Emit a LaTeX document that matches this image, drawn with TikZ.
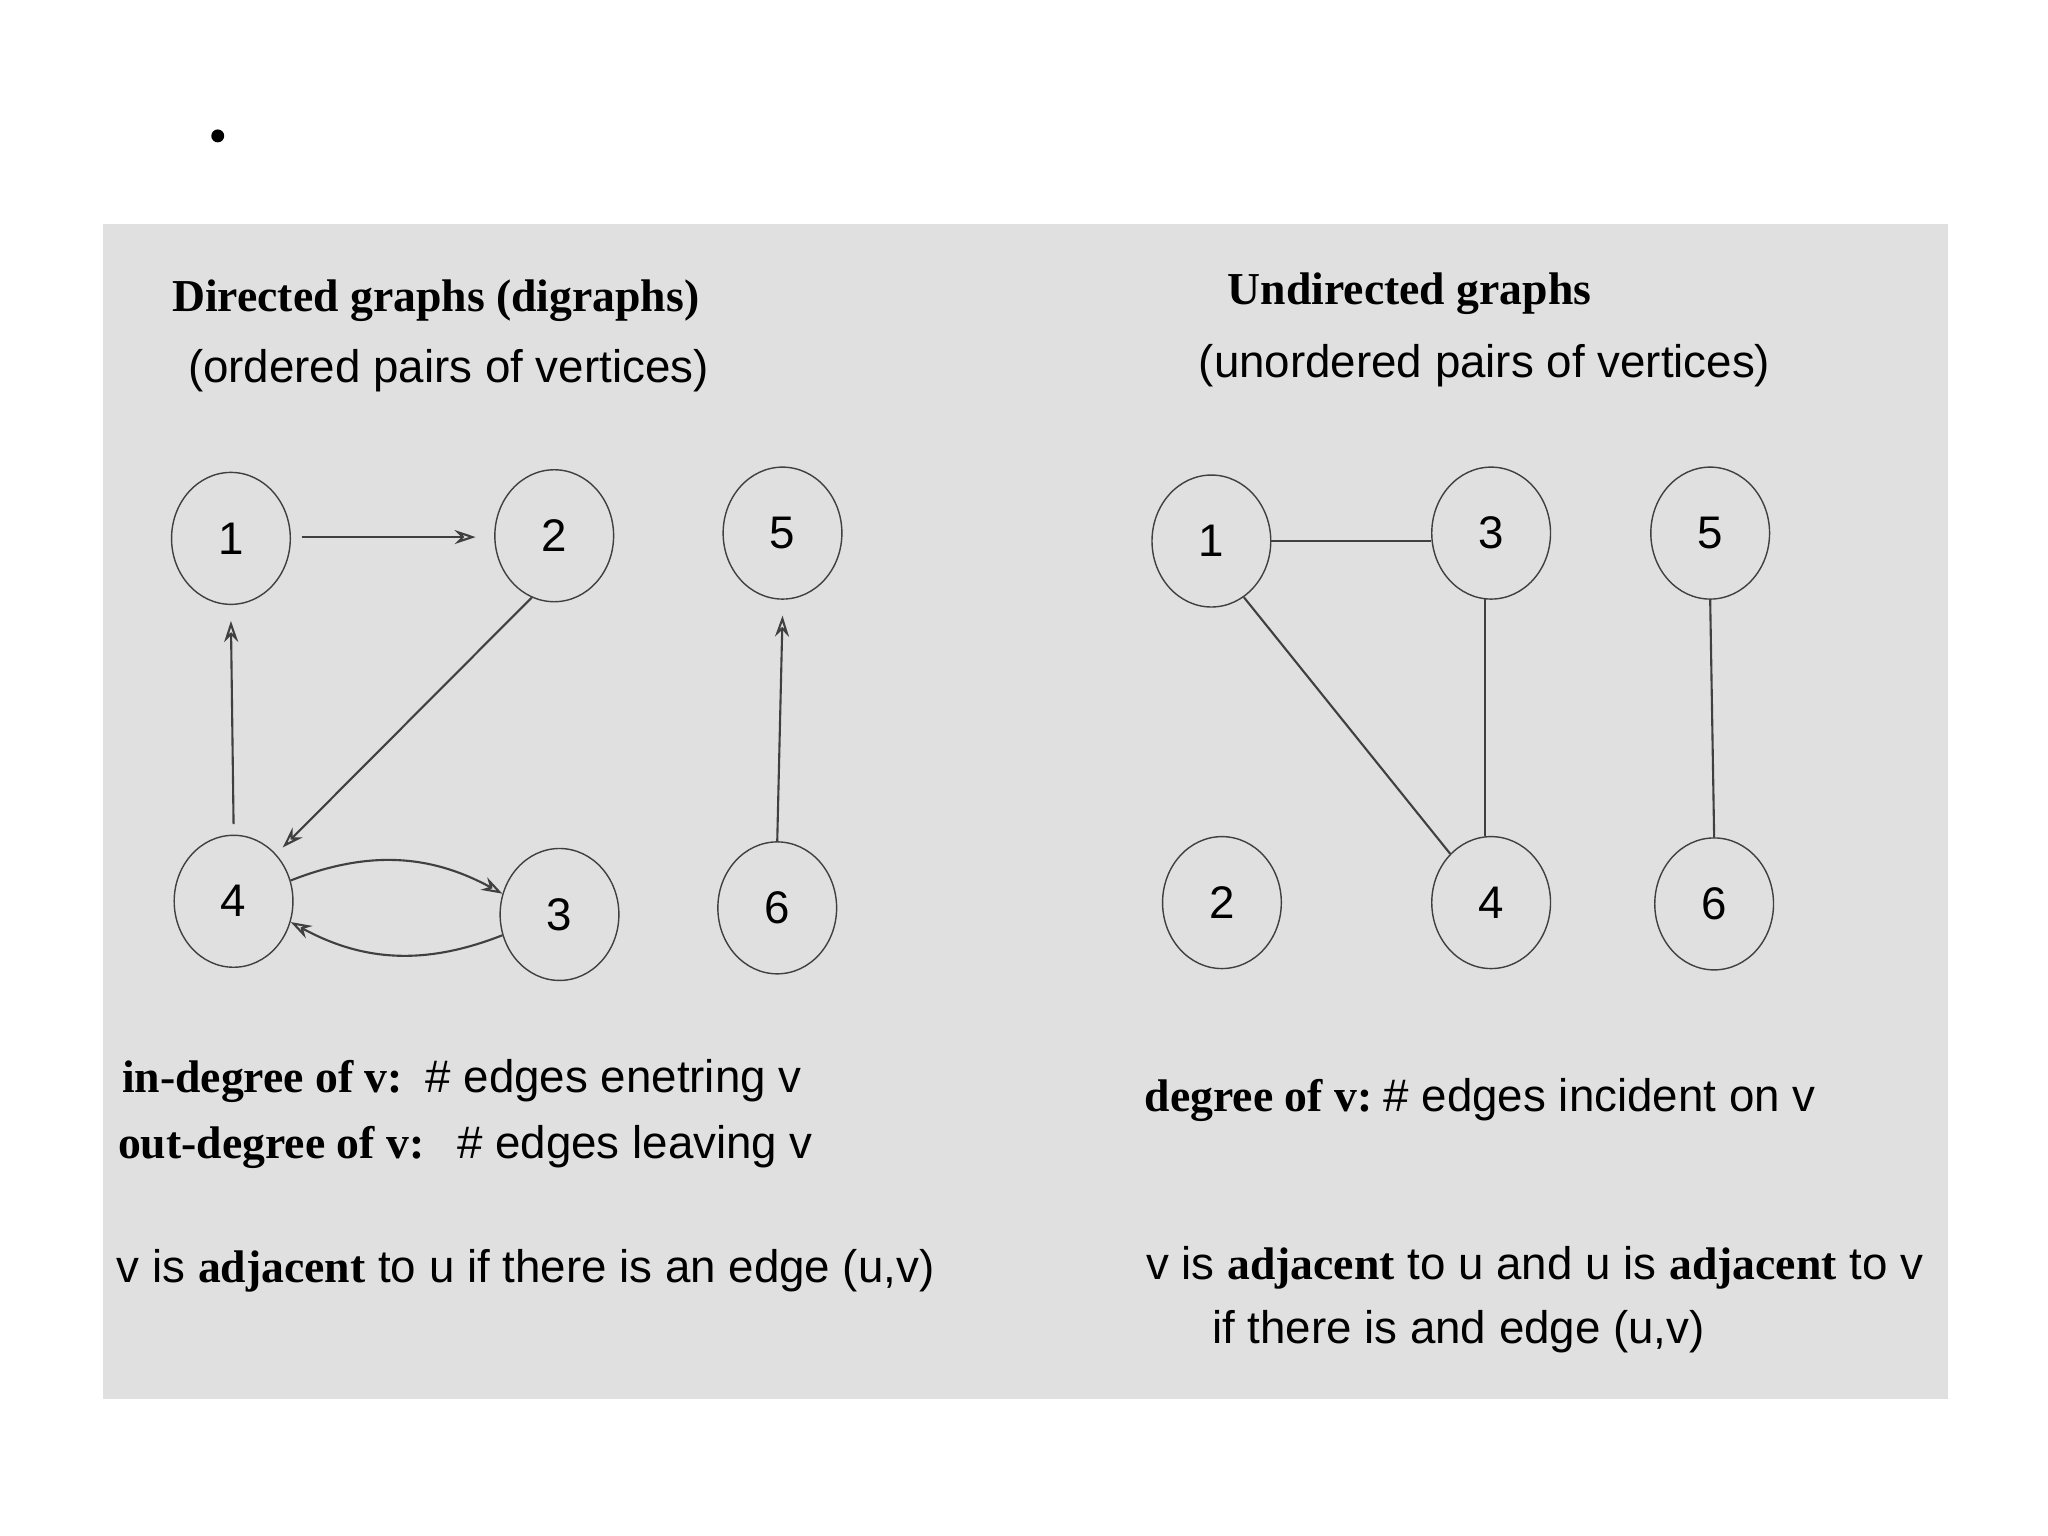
\documentclass[tikz,border=0pt]{standalone}
\usepackage{fontspec}
\setmainfont{Liberation Serif}
\setsansfont{Liberation Sans}
\usetikzlibrary{shapes.geometric,arrows.meta}
\begin{document}
\begin{tikzpicture}[x=1.3196cm,y=-1.3196cm,
  vtx/.style={draw=black!75,ellipse,minimum width=0.9*1.3196cm,minimum height=1.0*1.3196cm,inner sep=0pt,font=\sffamily\fontsize{13}{15}\selectfont},
  edg/.style={draw=black!75,line width=0.6pt},
  arr/.style={edg,-{Stealth[open,length=6pt,width=4pt]}},
  txt/.style={anchor=base west,inner sep=0pt,font=\sffamily\fontsize{13}{15}\selectfont},
  btxt/.style={anchor=base west,inner sep=0pt,font=\rmfamily\bfseries\fontsize{13}{15}\selectfont}]
\useasboundingbox (0,0) rectangle (15.52,11.64);
\fill[white] (0,0) rectangle (15.52,11.64);
\fill[black!12] (0.78,1.70) rectangle (14.76,10.60);
\node[circle,fill=black,inner sep=1.3pt] (bul) at (1.65,1.03) {};
% titles
\node[btxt] (t1) at (1.30,2.36) {Directed graphs (digraphs)};
\node[txt] (t2) at (1.42,2.90) {(ordered pairs of vertices)};
\node[btxt] (t3) at (9.30,2.31) {Undirected graphs};
\node[txt] (t4) at (9.08,2.86) {(unordered pairs of vertices)};
% directed
\node[vtx] (d1) at (1.75,4.08) {1};
\node[vtx] (d2) at (4.20,4.06) {2};
\node[vtx] (d5) at (5.93,4.04) {5};
\node[vtx] (d4) at (1.77,6.83) {4};
\node[vtx] (d3) at (4.24,6.93) {3};
\node[vtx] (d6) at (5.89,6.88) {6};
\draw[arr] (d1.east)++(0.08,-0.01) coordinate (a1) -- ([xshift=-0.14*1.3196cm]d2.west|-a1);
\draw[arr] ([yshift=0.08*1.3196cm]d4.north) -- ([yshift=-0.12*1.3196cm]d1.south);
\draw[arr] (d2.250) -- ([shift={(0.05,-0.05)}]d4.north east);
\draw[arr] (d4.20) to[bend left=25] (d3.160);
\draw[arr] (d3.200) to[bend left=25] (d4.-20);
\draw[arr] (d6.north) -- ([yshift=-0.12*1.3196cm]d5.south);
% undirected
\node[vtx] (u1) at (9.18,4.10) {1};
\node[vtx] (u3) at (11.30,4.04) {3};
\node[vtx] (u5) at (12.96,4.04) {5};
\node[vtx] (u2) at (9.26,6.84) {2};
\node[vtx] (u4) at (11.30,6.84) {4};
\node[vtx] (u6) at (12.99,6.85) {6};
\draw[edg] (u1.east) -- (u3.west|-u1.east);
\draw[edg] (u1.-60) -- (u4.130);
\draw[edg] (u3.-95) -- (u4.95);
\draw[edg] (u5.south) -- (u6.north);
% texts
\node[btxt] (l1) at (0.92,8.28) {in-degree of v:};
\node[txt] (l1b) at (3.22,8.28) {\# edges enetring v};
\node[btxt] (l2) at (0.89,8.78) {out-degree of v:};
\node[txt] (l2b) at (3.46,8.78) {\# edges leaving v};
\node[txt] (l3) at (0.88,9.72) {v is {\rmfamily\bfseries adjacent} to u if there is an edge (u,v)};
\node[btxt] (r1) at (8.67,8.42) {degree of v:};
\node[txt] (r1b) at (10.48,8.42) {\# edges incident on v};
\node[txt] (r2) at (8.68,9.70) {v is {\rmfamily\bfseries adjacent} to u and u is {\rmfamily\bfseries adjacent} to v};
\node[txt] (r3) at (9.18,10.18) {if there is and edge (u,v)};
\end{tikzpicture}
\end{document}
